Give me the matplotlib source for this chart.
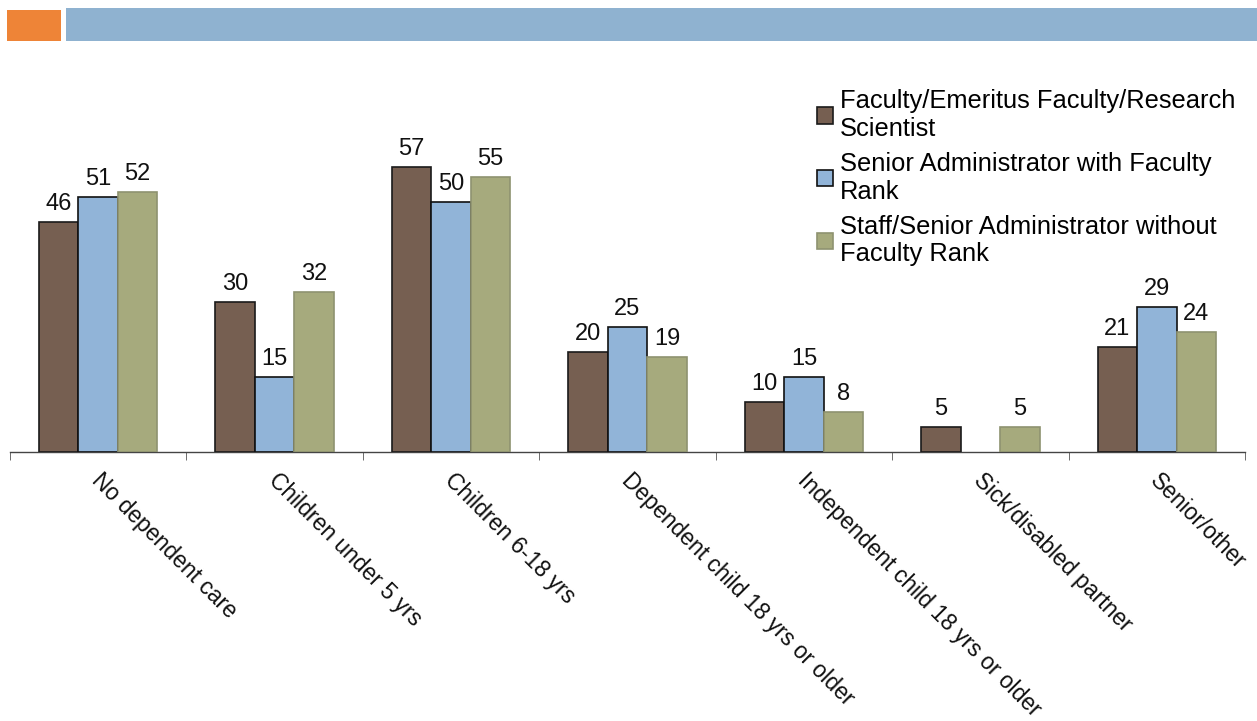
import matplotlib

matplotlib.use("Agg")
import matplotlib.pyplot as plt
import numpy as np
from matplotlib.patches import Rectangle

plt.rcParams["font.family"] = ["Liberation Sans", "DejaVu Sans"]

CATEGORIES = ["No dependent care", "Children under 5 yrs", "Children 6-18 yrs",
              "Dependent child 18 yrs or older", "Independent child 18 yrs or older",
              "Sick/disabled partner", "Senior/other"]
SERIES = ["Faculty/Emeritus Faculty/Research\nScientist",
          "Senior Administrator with Faculty\nRank",
          "Staff/Senior Administrator without\nFaculty Rank"]
FACULTY = [46, 30, 57, 20, 10, 5, 21]
SENIOR_ADMIN = [51, 15, 50, 25, 15, None, 29]
STAFF = [52, 32, 55, 19, 8, 5, 24]

COLORS = ["#765f51", "#91b4d8", "#a6aa7d"]
EDGES = ["#1a1a1a", "#111111", "#8e9270"]

W, H = 1257, 721
fig = plt.figure(figsize=(W / 100, H / 100), dpi=100)

# banner across the top
fig.patches.append(Rectangle((7 / W, 1 - 41 / H), 54 / W, 31 / H, transform=fig.transFigure,
                             facecolor="#ee8437", edgecolor="none"))
fig.patches.append(Rectangle((66 / W, 1 - 41 / H), (W - 66) / W, 33 / H, transform=fig.transFigure,
                             facecolor="#8fb2d0", edgecolor="none"))

ax = fig.add_axes([10 / W, (H - 452) / H, 1235 / W, 300 / H])
x = np.arange(len(CATEGORIES))
bw = 0.224

for i, (vals, label) in enumerate(zip([FACULTY, SENIOR_ADMIN, STAFF], SERIES)):
    xs = [xi + (i - 1) * bw for xi, v in zip(x, vals) if v is not None]
    ys = [v for v in vals if v is not None]
    bars = ax.bar(xs, ys, width=bw, color=COLORS[i], edgecolor=EDGES[i], linewidth=1.2,
                  label=label, zorder=3)
    for b, v in zip(bars, ys):
        ax.text(b.get_x() + b.get_width() / 2, v + 1.4, str(v), ha="center", va="bottom",
                fontsize=17, color="#111111")

ax.set_xlim(-0.5, len(CATEGORIES) - 0.5)
ax.set_ylim(0, 60)
for s in ["top", "left", "right"]:
    ax.spines[s].set_visible(False)
ax.spines["bottom"].set_color("#444444")
ax.spines["bottom"].set_linewidth(1.0)
ax.set_yticks([])

ax.set_xticks(x)
ax.set_xticklabels([])
ax.tick_params(axis="x", which="major", length=0)
ax.set_xticks(np.arange(len(CATEGORIES) + 1) - 0.5, minor=True)
ax.tick_params(axis="x", which="minor", length=6, color="#555555", direction="out")

for xi, lab in zip(x, CATEGORIES):
    ax.text(xi + 0.03, -3.4, lab, rotation=-45, rotation_mode="anchor", ha="left", va="top",
            fontsize=16.5, color="#111111")

leg = fig.legend(loc="upper left", bbox_to_anchor=(807 / W, 1 - 79 / H), frameon=False,
                 fontsize=18.4, handlelength=0.6, handleheight=0.6, handletextpad=0.3,
                 labelspacing=0.45, borderaxespad=0)
for t in leg.get_texts():
    t.set_linespacing(1.18)

fig.savefig("out.png", dpi=100)
